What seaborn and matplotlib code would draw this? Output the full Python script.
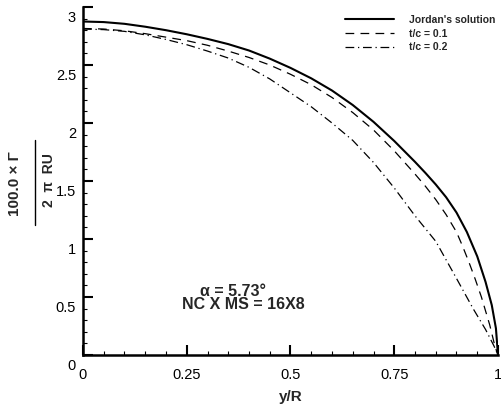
import matplotlib
matplotlib.use("Agg")
import matplotlib.pyplot as plt
import matplotlib.transforms as mtransforms
from matplotlib.lines import Line2D
import numpy as np
import pandas as pd
import seaborn as sns

# Spanwise positions and circulation values for each solution
y_jordan = [0.0, 0.05, 0.1, 0.15, 0.2, 0.25, 0.3, 0.35, 0.4, 0.45, 0.5, 0.55,
            0.6, 0.65, 0.7, 0.75, 0.8, 0.825, 0.85, 0.875, 0.9, 0.925, 0.95,
            0.97, 0.985, 0.995, 1.0]
g_jordan = [2.875, 2.87, 2.855, 2.83, 2.80, 2.765, 2.725, 2.68, 2.625, 2.555, 2.475, 2.385,
            2.28, 2.155, 2.01, 1.845, 1.665, 1.57, 1.47, 1.36, 1.228, 1.06, 0.85,
            0.63, 0.43, 0.23, 0.0]

y_tc01 = [0.0, 0.05, 0.1, 0.15, 0.2, 0.25, 0.3, 0.35, 0.4, 0.45, 0.5, 0.55,
          0.6, 0.65, 0.7, 0.75, 0.8, 0.825, 0.85, 0.875, 0.9, 0.915, 0.93, 0.945,
          0.96, 0.98, 0.993, 1.0]
g_tc01 = [2.815, 2.81, 2.795, 2.77, 2.74, 2.71, 2.67, 2.62, 2.565, 2.50, 2.42, 2.33,
          2.22, 2.09, 1.94, 1.76, 1.56, 1.455, 1.34, 1.21, 1.06, 0.935, 0.80, 0.655,
          0.50, 0.26, 0.07, 0.0]

y_tc02 = [0.0, 0.05, 0.1, 0.15, 0.2, 0.25, 0.3, 0.35, 0.4, 0.45, 0.5, 0.55,
          0.6, 0.65, 0.7, 0.75, 0.8, 0.85, 0.9, 0.94, 0.97, 0.99, 1.0]
g_tc02 = [2.81, 2.805, 2.79, 2.76, 2.72, 2.675, 2.62, 2.56, 2.48, 2.38, 2.26, 2.14,
          2.00, 1.85, 1.66, 1.44, 1.20, 0.98, 0.66, 0.40, 0.22, 0.08, 0.0]

series_labels = ["Jordan's solution", "t/c = 0.1", "t/c = 0.2"]

x_ticks = [0, 0.25, 0.5, 0.75, 1]
x_tick_labels = ["0", "0.25", "0.5", "0.75", "1"]
y_ticks = [0, 0.5, 1, 1.5, 2, 2.5, 3]
y_tick_labels = ["0", "0.5", "1", "1.5", "2", "2.5", "3"]

sns.set_theme(style="white")
plt.rcParams["font.family"] = ["Liberation Sans", "DejaVu Sans"]

fig = plt.figure(figsize=(5.02, 4.11), dpi=100)
fig.patch.set_facecolor("white")
ax = fig.add_axes([83 / 502, 56 / 411, 415 / 502, 348 / 411])
ax.set_facecolor("white")

frames = [
    pd.DataFrame({"y": y_jordan, "g": g_jordan}),
    pd.DataFrame({"y": y_tc01, "g": g_tc01}),
    pd.DataFrame({"y": y_tc02, "g": g_tc02}),
]
styles = [
    dict(lw=1.5, dashes=None),
    dict(lw=0.9, dashes=(7, 5)),
    dict(lw=0.9, dashes=(7, 3, 1, 3)),
]
for df, st, lab in zip(frames, styles, series_labels):
    kw = dict(color="black", lw=st["lw"], label=lab, sort=False, estimator=None)
    if st["dashes"] is not None:
        kw["dashes"] = st["dashes"]
    sns.lineplot(data=df, x="y", y="g", ax=ax, **kw)

ax.set_xlim(0, 1)
ax.set_ylim(0, 3)

for side in ("top", "right"):
    ax.spines[side].set_visible(False)
for side in ("left", "bottom"):
    ax.spines[side].set_linewidth(1.8)
    ax.spines[side].set_color("black")

ax.set_xticks(x_ticks)
ax.set_xticklabels(x_tick_labels)
ax.set_yticks(y_ticks)
ax.set_yticklabels(y_tick_labels)
ax.set_xticks(np.arange(0, 1.0001, 0.05), minor=True)
ax.set_yticks(np.arange(0, 3.0001, 0.1), minor=True)

ax.tick_params(axis="both", which="both", bottom=True, left=True,
               top=False, right=False)
ax.tick_params(axis="both", which="major", direction="in", length=7, width=1.5,
               color="black", labelsize=10.5, labelcolor="black")
ax.tick_params(axis="both", which="minor", direction="in", length=3, width=0.8,
               color="black")
ax.tick_params(axis="x", which="major", pad=9)
ax.tick_params(axis="y", which="major", pad=5)

# y tick labels sit a little below their ticks
shift = mtransforms.ScaledTranslation(0, -9 / 100, fig.dpi_scale_trans)
for lbl in ax.get_yticklabels():
    lbl.set_transform(lbl.get_transform() + shift)

ax.set_xlabel("y/R", fontsize=11, fontweight="bold", labelpad=6)
ax.set_ylabel("")

# Fractional y-axis label drawn as numerator, bar and denominator
fig.text(15 / 502, 1 - 184 / 411, "100.0 × Γ", rotation=90, fontsize=11,
         fontweight="bold", ha="center", va="center")
fig.add_artist(Line2D([35 / 502, 35 / 502], [1 - 140 / 411, 1 - 225 / 411],
                      transform=fig.transFigure, color="black", lw=1.0))
fig.text(49 / 502, 1 - 180 / 411, "2  π  RU", rotation=90, fontsize=10,
         fontweight="bold", ha="center", va="center")

# Flow condition note
ax.text(0.238, 0.49, "    α = 5.73°\nNC X MS = 16X8", fontsize=11.5,
        fontweight="bold", ha="left", va="center", multialignment="left",
        linespacing=0.85)

leg = ax.legend(loc="upper left", bbox_to_anchor=(345 / 502, 1 - 15 / 411),
                bbox_transform=fig.transFigure, frameon=False,
                prop={"weight": "bold", "size": 7.5}, handlelength=4.7,
                handletextpad=1.4, labelspacing=0.35, borderpad=0,
                borderaxespad=0)

fig.savefig("out.png", dpi=100, facecolor="white")
